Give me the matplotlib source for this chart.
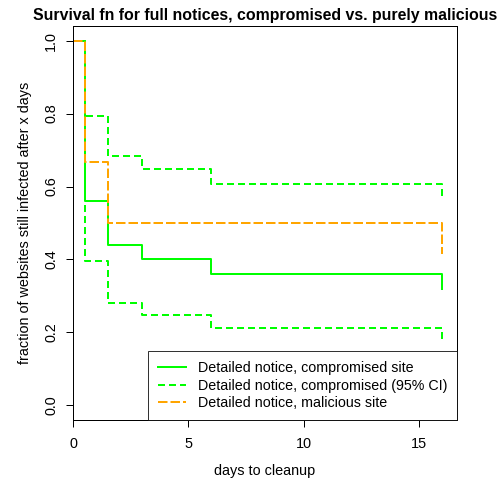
import matplotlib
matplotlib.use("Agg")
import matplotlib.pyplot as plt

plt.rcParams['font.family'] = ['Liberation Sans', 'DejaVu Sans']

# survival curve, full notices
times = [0, 0.5, 1.5, 3, 6, 16]
comp = [1.0, 0.56, 0.44, 0.40, 0.36, 0.32]
comp_upper = [1.0, 0.794, 0.685, 0.647, 0.607, 0.574]
comp_lower = [1.0, 0.396, 0.282, 0.247, 0.213, 0.179]

mal_times = [0, 0.5, 1.5, 16]
mal = [1.0, 0.667, 0.5, 0.415]

labels = ["Detailed notice, compromised site",
          "Detailed notice, compromised (95% CI)",
          "Detailed notice, malicious site"]

green = "#00ff00"
orange = "#ffa500"

fig = plt.figure(figsize=(504/72, 479/72), dpi=72)
ax = fig.add_axes([73/504, 1-420/479, (457-73)/504, (420-26)/479])

l1, = ax.step(times, comp, where='post', color=green, lw=2)
l2, = ax.step(times, comp_upper, where='post', color=green, lw=2, ls=(0, (3.5, 2)))
ax.step(times, comp_lower, where='post', color=green, lw=2, ls=(0, (3.5, 2)))
l3, = ax.step(mal_times, mal, where='post', color=orange, lw=2, ls=(0, (4.75, 1.5)))

ax.set_xlim(0, 16.64)
ax.set_ylim(-0.04, 1.04)
ax.set_xticks([0, 5, 10, 15])
ax.set_yticks([0.0, 0.2, 0.4, 0.6, 0.8, 1.0])
ax.set_yticklabels(["0.0", "0.2", "0.4", "0.6", "0.8", "1.0"], rotation=90, va='center')
ax.tick_params(length=7, width=1, labelsize=14.4, pad=8)
ax.tick_params(axis='x', pad=10)
for s in ax.spines.values():
    s.set_linewidth(1)

ax.set_xlabel("days to cleanup", fontsize=14.4, labelpad=13)
ax.set_ylabel("fraction of websites still infected after x days", fontsize=14.4, labelpad=12)
ax.set_title("Survival fn for full notices, compromised vs. purely malicious",
             fontsize=15.9, fontweight='bold', pad=6)

leg = ax.legend([l1, l2, l3], labels, loc='lower right', bbox_to_anchor=(1, 0),
                borderaxespad=0, fancybox=False, edgecolor='black', fontsize=14.2,
                handlelength=1.97, handletextpad=0.8, borderpad=0.7, labelspacing=0.24)
leg.get_frame().set_linewidth(1)

fig.savefig("out.png", dpi=72)
